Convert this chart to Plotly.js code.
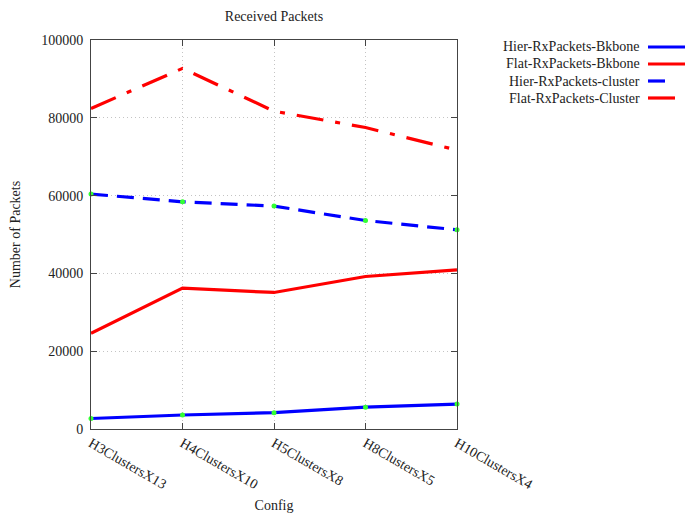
<!DOCTYPE html>
<html>
<head>
<meta charset="utf-8">
<script src="https://cdn.plot.ly/plotly-3.0.1.min.js"></script>
<style>html,body{margin:0;padding:0;background:#fff;}#chart{width:690px;height:513px;}</style>
</head>
<body>
<div id="chart"></div>
<script>
var categories = ["H3ClustersX13", "H4ClustersX10", "H5ClustersX8", "H8ClustersX5", "H10ClustersX4"];
var hierBkbone  = [2700, 3600, 4200, 5600, 6400];
var flatBkbone  = [24600, 36200, 35100, 39200, 40900];
var hierCluster = [60400, 58400, 57300, 53600, 51200];
var flatCluster = [82400, 92700, 81700, 77500, 71700];
var seriesNames = ["Hier-RxPackets-Bkbone", "Flat-RxPackets-Bkbone", "Hier-RxPackets-cluster", "Flat-RxPackets-Cluster"];
var yTicks = [0, 20000, 40000, 60000, 80000, 100000];

var FONT = "Liberation Serif, DejaVu Serif, serif";
var colors = ["#0000ff", "#ff0000", "#0000ff", "#ff0000"];
var dashes = ["solid", "solid", "17px,9px", "27px,12px,5px,12px"];
var values = [hierBkbone, flatBkbone, hierCluster, flatCluster];
var withPoints = [true, false, true, false];

var traces = values.map(function (v, i) {
  return {
    x: categories, y: v, name: seriesNames[i], type: "scatter",
    mode: withPoints[i] ? "lines+markers" : "lines",
    line: {color: colors[i], width: 3.2, dash: dashes[i]},
    marker: {color: "#33ff33", size: 5, symbol: "circle"},
    showlegend: false, cliponaxis: false
  };
});

var annotations = [];
var shapes = [];
var sampleLens = [37, 37, 17, 27];
seriesNames.forEach(function (n, i) {
  var yy = 47 + i * 17;
  annotations.push({
    xref: "paper", yref: "paper",
    x: (642 - 91) / 366, y: 1 - (yy - 40) / 389,
    text: n, showarrow: false, xanchor: "right", yanchor: "middle",
    font: {family: FONT, size: 14, color: "#222"}
  });
  shapes.push({
    type: "line", xref: "paper", yref: "paper",
    x0: (648 - 91) / 366, x1: (648 + sampleLens[i] - 91) / 366,
    y0: 1 - (yy - 40) / 389, y1: 1 - (yy - 40) / 389,
    line: {color: colors[i], width: 3.2}
  });
});

var layout = {
  width: 690, height: 513,
  margin: {l: 91, r: 233, t: 40, b: 84},
  paper_bgcolor: "#fff", plot_bgcolor: "#fff",
  font: {family: FONT, size: 14, color: "#222"},
  title: {text: "Received Packets", x: 274 / 690, xanchor: "center", y: 1 - 16 / 513, yanchor: "middle",
          font: {family: FONT, size: 14, color: "#222"}},
  xaxis: {
    type: "category", range: [0, categories.length - 1],
    showline: true, linecolor: "#444", linewidth: 1, mirror: "ticks",
    ticks: "inside", ticklen: 6, tickcolor: "#444",
    showgrid: true, gridcolor: "#c4c4c4", griddash: "1px,3px", gridwidth: 1,
    tickangle: 30, tickfont: {family: FONT, size: 14, color: "#222"},
    title: {text: "Config", font: {family: FONT, size: 14, color: "#222"}, standoff: 12},
    zeroline: false, fixedrange: true
  },
  yaxis: {
    range: [0, 100000], tickvals: yTicks, ticktext: yTicks.map(String),
    showline: true, linecolor: "#444", linewidth: 1, mirror: "ticks",
    ticks: "inside", ticklen: 6, tickcolor: "#444",
    showgrid: true, gridcolor: "#c4c4c4", griddash: "1px,3px", gridwidth: 1,
    tickfont: {family: FONT, size: 14, color: "#222"},
    ticklabelstandoff: 4,
    title: {text: "Number of Packets", font: {family: FONT, size: 14, color: "#222"}, standoff: 17},
    zeroline: false, fixedrange: true
  },
  annotations: annotations,
  shapes: shapes,
  showlegend: false
};

Plotly.newPlot("chart", traces, layout, {displayModeBar: false, staticPlot: true});
</script>
</body>
</html>
